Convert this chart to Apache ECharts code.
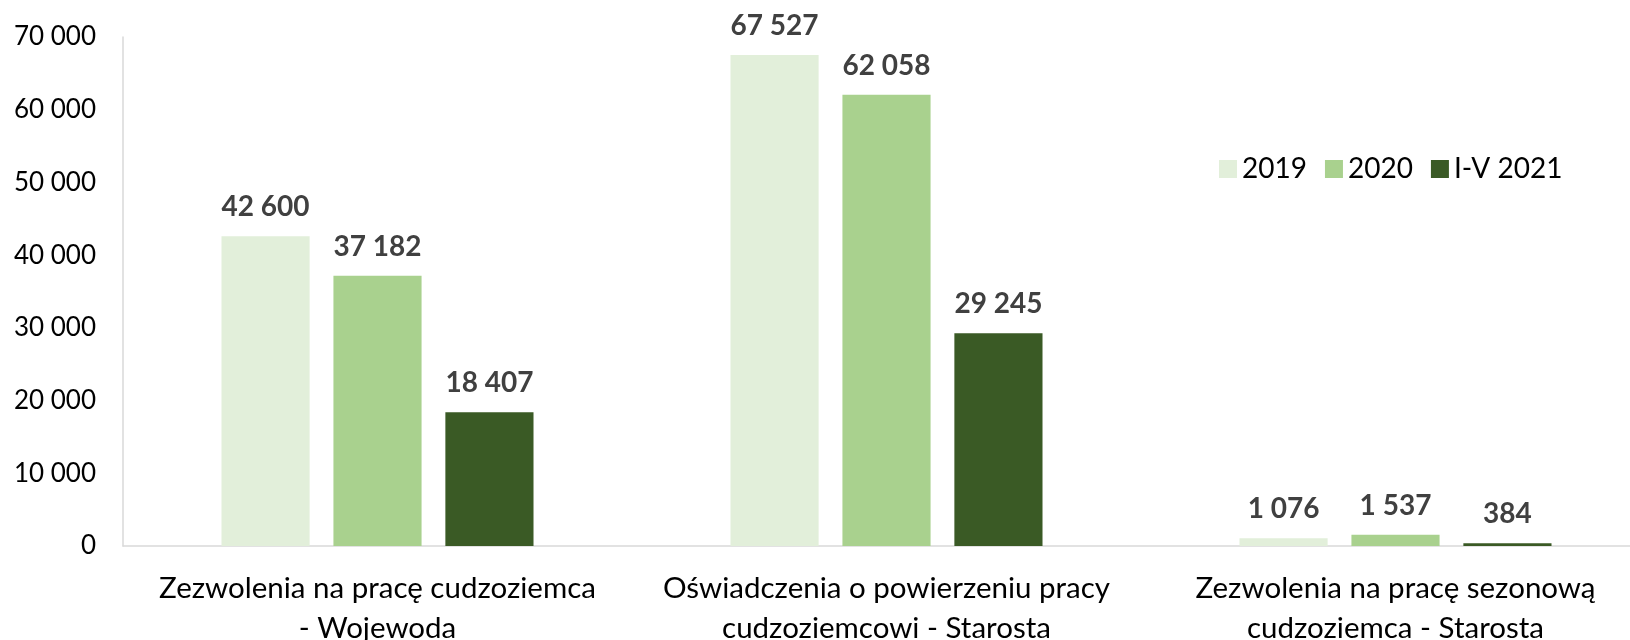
<!DOCTYPE html>
<html><head><meta charset="utf-8">
<script src="https://cdn.jsdelivr.net/npm/echarts@6/dist/echarts.min.js"></script>
<style>html,body{margin:0;padding:0;background:#fff}#c{width:1630px;height:640px}</style>
</head><body><div id="c"></div>
<script>
const categories = [
  "Zezwolenia na pracę cudzoziemca\n- Wojewoda",
  "Oświadczenia o powierzeniu pracy\ncudzoziemcowi - Starosta",
  "Zezwolenia na pracę sezonową\ncudzoziemca - Starosta"
];
const seriesNames = ["2019", "2020", "I-V 2021"];
const values2019 = [42600, 67527, 1076];
const values2020 = [37182, 62058, 1537];
const values2021 = [18407, 29245, 384];
const colors = ["#E2EFDA", "#A9D18E", "#3A5A25"];
const FONT = "Lato, 'Open Sans', sans-serif";
const fmt = v => String(v).replace(/\B(?=(\d{3})+(?!\d))/g, " ");
const chart = echarts.init(document.getElementById('c'));
const mk = (name, data, i) => ({
  name, type: 'bar', data, barGap: '27%', barCategoryGap: '38.7%',
  itemStyle: { color: colors[i] },
  label: { show: true, position: 'top', distance: 15, formatter: p => fmt(p.value),
    fontFamily: FONT, fontWeight: 'bold', fontSize: 28, color: '#404040' }
});
chart.setOption({
  animation: false,
  textStyle: { fontFamily: FONT },
  grid: { left: 123, width: 1527, top: 37, bottom: 94, containLabel: false, outerBoundsMode: 'none' },
  legend: {
    data: seriesNames, left: 1214, top: 150, itemWidth: 18, itemHeight: 18, itemGap: 18,
    icon: 'rect', textStyle: { fontSize: 28, color: '#000', fontFamily: FONT }
  },
  xAxis: {
    type: 'category', data: categories,
    axisLine: { lineStyle: { color: '#D9D9D9', width: 1.5 } },
    axisTick: { show: false },
    axisLabel: { fontSize: 29.5, color: '#000', lineHeight: 40, margin: 22, fontFamily: FONT, interval: 0 }
  },
  yAxis: {
    type: 'value', min: 0, max: 70000, interval: 10000,
    axisLine: { show: true, lineStyle: { color: '#D9D9D9', width: 1.5 } },
    splitLine: { show: false },
    axisLabel: { fontSize: 26, color: '#000', margin: 27, formatter: v => fmt(v), fontFamily: FONT }
  },
  series: [mk(seriesNames[0], values2019, 0), mk(seriesNames[1], values2020, 1), mk(seriesNames[2], values2021, 2)]
});
</script></body></html>
